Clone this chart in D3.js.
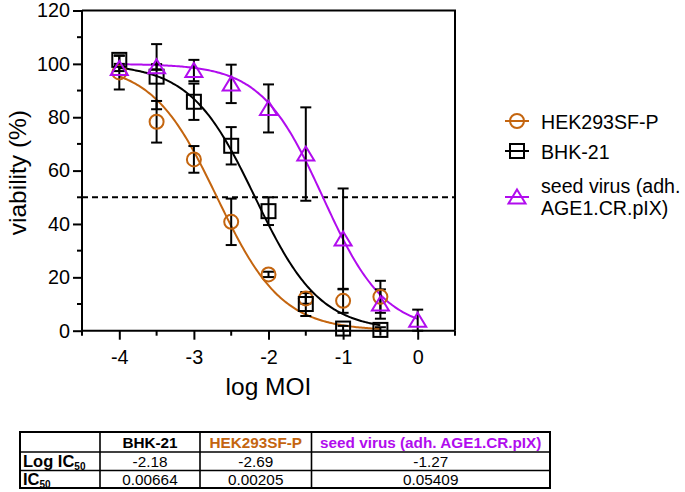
<!DOCTYPE html>
<html><head><meta charset="utf-8">
<script src="https://cdn.jsdelivr.net/npm/d3@7"></script>
<style>body{margin:0;background:#fff}svg{font-family:"Liberation Sans",Arial,Helvetica,sans-serif}</style>
</head><body><svg id="c" width="685" height="492"></svg>
<script>
// ---------- data ----------
const logMOI = [-4, -3.5, -3, -2.5, -2, -1.5, -1, -0.5, 0];
const hekMean = [96.8, 78.3, 64.2, 40.8, 21.1, 12.1, 11.2, 12.7];
const hekSD   = [6.4, 7.8, 5.0, 8.7, 1.0, 2.0, 4.5, 6.0];
const bhkMean = [101.5, 95.2, 85.8, 69.3, 44.8, 10.0, 0.8, 0.3];
const bhkSD   = [1.5, 12.2, 6.8, 7.0, 5.2, 4.5, 1.0, 1.0];
const seedMean = [98.3, 98.9, 97.5, 92.5, 83.3, 66.2, 34.4, 10.0, 3.9];
const seedSD   = [1.0, 1.0, 4.0, 7.2, 9.0, 17.5, 18.9, 5.5, 4.0];
const seriesNames = ["HEK293SF-P", "BHK-21", "seed virus (adh. AGE1.CR.pIX)"];
const legendLines = [["HEK293SF-P"], ["BHK-21"], ["seed virus (adh.", "AGE1.CR.pIX)"]];
// four-parameter logistic fit parameters
const fitLogIC50 = [-2.69, -2.18, -1.27];
const fitHill = [1.0, 1.0, 1.05];
const fitTop = [100, 100, 100];
const fitBottom = [0, 0, 0];
const fitRange = [[-4, -0.5], [-4, -0.5], [-4, 0]];
const xTicks = [-4, -3, -2, -1, 0];
const xMinorTicks = [-4.5, -3.5, -2.5, -1.5, -0.5, 0.5];
const yTicks = [0, 20, 40, 60, 80, 100, 120];
const yMinorTicks = [10, 30, 50, 70, 90, 110];
const cutoff = 50;
const tableHeader = ["", "BHK-21", "HEK293SF-P", "seed virus (adh. AGE1.CR.pIX)"];
const tableLogIC50 = ["-2.18", "-2.69", "-1.27"];
const tableIC50 = ["0.00664", "0.00205", "0.05409"];

// ---------- styling ----------
const ORANGE = "#c4650f", PURPLE = "#b10cee", BLACK = "#000";
const series = [
  {mean: hekMean, sd: hekSD, color: ORANGE, shape: "circle"},
  {mean: bhkMean, sd: bhkSD, color: BLACK, shape: "square"},
  {mean: seedMean, sd: seedSD, color: PURPLE, shape: "triangle"}
];

const svg = d3.select("#c");
const x = d3.scaleLinear().domain([-4.5, 0.5]).range([82, 455]);
const y = d3.scaleLinear().domain([0, 120]).range([330.7, 10.5]);

// frame (top / right)
svg.append("path").attr("d", `M${x(-4.5)},${y(120)}H${x(0.5)}V${y(0)}`)
  .attr("fill", "none").attr("stroke", BLACK).attr("stroke-width", 2);

// axes
const fs = "19.8px";
const xAxis = svg.append("g").attr("transform", `translate(0,${y(0)})`)
  .call(d3.axisBottom(x).tickValues(xTicks).tickSize(9).tickPadding(10).tickFormat(d3.format("d")));
xAxis.append("g").selectAll("line").data(xMinorTicks).join("line")
  .attr("x1", d => x(d)).attr("x2", d => x(d)).attr("y1", 0).attr("y2", 5);
const yAxis = svg.append("g").attr("transform", `translate(${x(-4.5)},0)`)
  .call(d3.axisLeft(y).tickValues(yTicks).tickSize(9).tickPadding(3));
yAxis.append("g").selectAll("line").data(yMinorTicks).join("line")
  .attr("x1", 0).attr("x2", -5).attr("y1", d => y(d)).attr("y2", d => y(d));
[xAxis, yAxis].forEach(a => {
  a.select(".domain").attr("stroke-width", 2).attr("d", a === xAxis ? `M${x(-4.5)},0H${x(0.5)}` : `M0,${y(0)}V${y(120)}`);
  a.selectAll("line").attr("stroke", BLACK).attr("stroke-width", 2);
  a.selectAll("text").attr("font-size", fs).attr("fill", BLACK)
   .attr("font-family", '"Liberation Sans",Arial,sans-serif');
});
xAxis.selectAll(".tick text").text(d => d < 0 ? "-" + Math.abs(d) : d);

// axis titles
svg.append("text").attr("transform", `translate(26,${(y(0) + y(120)) / 2 + 2}) rotate(-90)`)
  .attr("text-anchor", "middle").attr("font-size", "24.5px").text("viability (%)");
svg.append("text").attr("x", (x(-4.5) + x(0.5)) / 2).attr("y", 395)
  .attr("text-anchor", "middle").attr("font-size", "24.5px").text("log MOI");

// dashed cutoff line
svg.append("line").attr("x1", x(-4.5)).attr("x2", x(0.5)).attr("y1", y(cutoff)).attr("y2", y(cutoff))
  .attr("stroke", BLACK).attr("stroke-width", 2).attr("stroke-dasharray", "6,4");

// fitted curves
const line = d3.line().x(d => x(d[0])).y(d => y(d[1]));
series.forEach((s, i) => {
  const [a, b] = fitRange[i];
  const pts = d3.range(a, b + 1e-9, 0.02).map(v =>
    [v, fitBottom[i] + (fitTop[i] - fitBottom[i]) / (1 + Math.pow(10, (v - fitLogIC50[i]) * fitHill[i]))]);
  svg.append("path").attr("d", line(pts)).attr("fill", "none")
    .attr("stroke", s.color).attr("stroke-width", 2);
});

// error bars
series.forEach(s => {
  const g = svg.append("g").attr("stroke", BLACK).attr("stroke-width", 2);
  s.mean.forEach((m, j) => {
    const cx = x(logMOI[j]), hi = y(m + s.sd[j]), lo = y(Math.max(0, m - s.sd[j]));
    g.append("line").attr("x1", cx).attr("x2", cx).attr("y1", hi).attr("y2", lo);
    g.append("line").attr("x1", cx - 5.5).attr("x2", cx + 5.5).attr("y1", hi).attr("y2", hi);
    g.append("line").attr("x1", cx - 5.5).attr("x2", cx + 5.5).attr("y1", lo).attr("y2", lo);
  });
});

function marker(g, shape, color, cx, cy) {
  let el;
  if (shape === "circle") el = g.append("circle").attr("cx", cx).attr("cy", cy).attr("r", 7);
  else if (shape === "square") el = g.append("rect").attr("x", cx - 7).attr("y", cy - 7).attr("width", 14).attr("height", 14);
  else el = g.append("path").attr("d", `M${cx},${cy - 7.5}L${cx + 8.5},${cy + 6.5}L${cx - 8.5},${cy + 6.5}Z`);
  el.attr("fill", "none").attr("stroke", color).attr("stroke-width", 2);
}
series.forEach(s => {
  const g = svg.append("g");
  s.mean.forEach((m, j) => marker(g, s.shape, s.color, x(logMOI[j]), y(m)));
});

// legend
const legY = [121, 151, 197];
const legBase = [[128.5], [158.5], [192.7, 215]];
series.forEach((s, i) => {
  const g = svg.append("g");
  g.append("line").attr("x1", 505).attr("x2", 529).attr("y1", legY[i]).attr("y2", legY[i])
    .attr("stroke", s.color).attr("stroke-width", 2);
  marker(g, s.shape, s.color, 517, legY[i]);
  legendLines[i].forEach((t, k) => g.append("text").attr("x", 541).attr("y", legBase[i][k])
    .attr("font-size", "19.6px").attr("fill", BLACK).text(t));
});

// table
const colX = [20, 100, 200, 311.5, 550];
const rowY = [432, 452, 470.5, 488];
const headColors = [BLACK, BLACK, ORANGE, PURPLE];
const tg = svg.append("g").attr("font-size", "15.3px");
tg.append("rect").attr("x", colX[0]).attr("y", rowY[0]).attr("width", colX[4] - colX[0]).attr("height", rowY[3] - rowY[0])
  .attr("fill", "none").attr("stroke", BLACK).attr("stroke-width", 2);
rowY.slice(1, 3).forEach(r => tg.append("line").attr("x1", colX[0]).attr("x2", colX[4]).attr("y1", r).attr("y2", r)
  .attr("stroke", BLACK).attr("stroke-width", 1.6));
colX.slice(1, 4).forEach(c => tg.append("line").attr("x1", c).attr("x2", c).attr("y1", rowY[0]).attr("y2", rowY[3])
  .attr("stroke", BLACK).attr("stroke-width", 1.6));
tableHeader.forEach((h, i) => {
  if (!h) return;
  tg.append("text").attr("x", (colX[i] + colX[i + 1]) / 2).attr("y", (rowY[0] + rowY[1]) / 2 + 5.5)
    .attr("text-anchor", "middle").attr("font-weight", "bold").attr("fill", headColors[i]).text(h);
});
const rowLabels = [["Log IC", "50"], ["IC", "50"]];
[tableLogIC50, tableIC50].forEach((vals, r) => {
  const cy = (rowY[r + 1] + rowY[r + 2]) / 2 + 5.5;
  const t = tg.append("text").attr("x", colX[0] + 3).attr("y", cy).attr("font-weight", "bold").attr("font-size", "16.5px");
  t.append("tspan").text(rowLabels[r][0]);
  t.append("tspan").attr("font-size", "10px").attr("dy", 3).text(rowLabels[r][1]);
  vals.forEach((v, i) => tg.append("text").attr("x", (colX[i + 1] + colX[i + 2]) / 2).attr("y", cy)
    .attr("text-anchor", "middle").attr("fill", BLACK).text(v));
});
</script></body></html>
